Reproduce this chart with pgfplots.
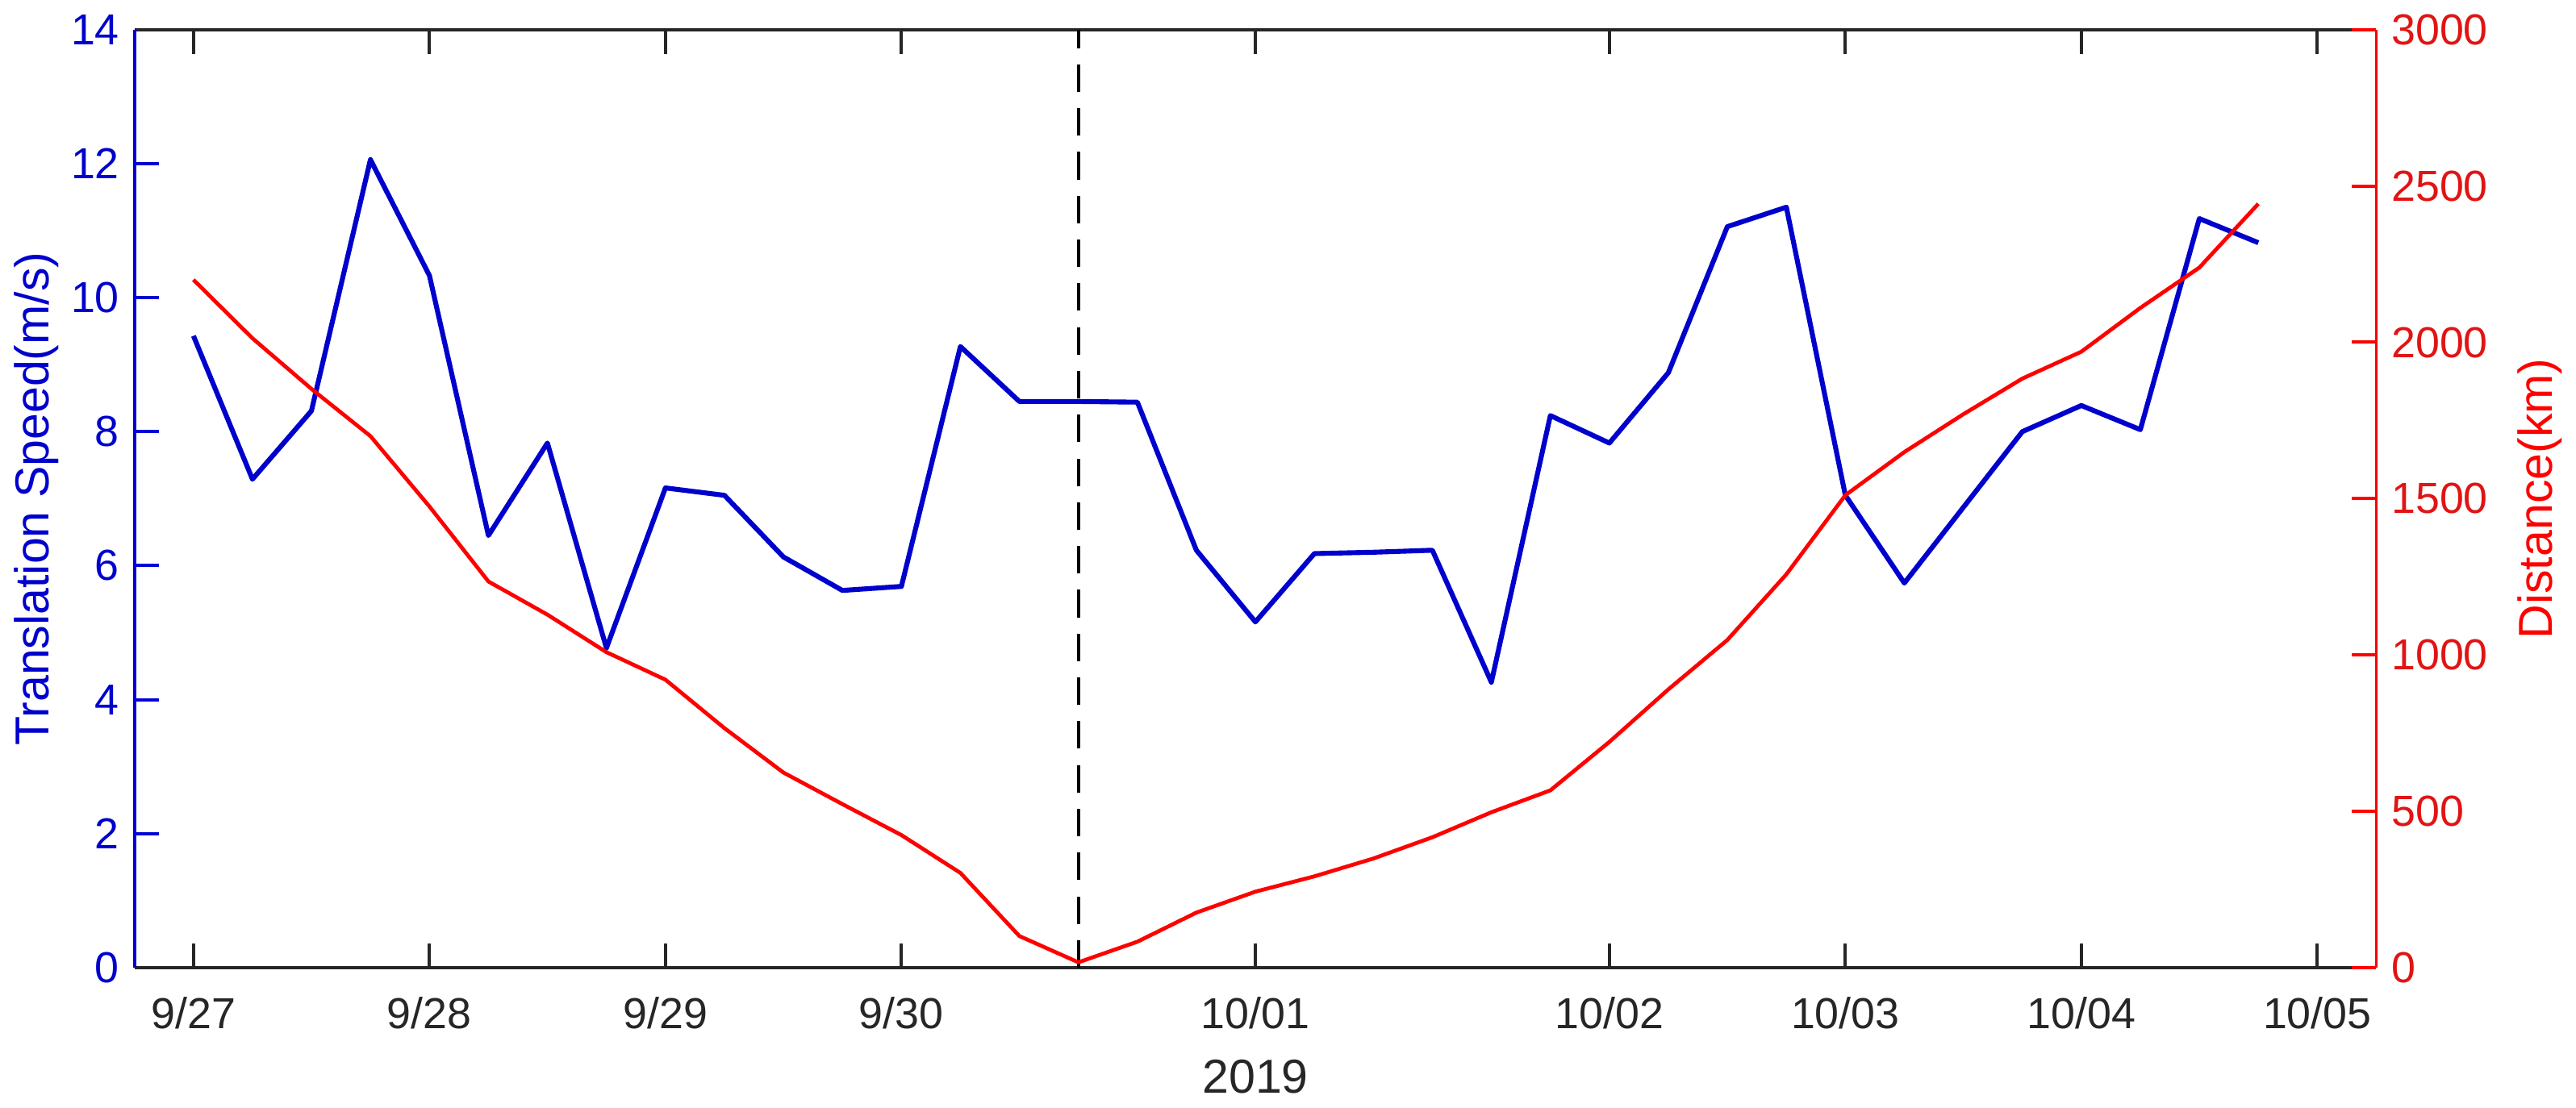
\documentclass[border=0pt]{standalone}
\usepackage{fontspec}
\setmainfont{Liberation Sans}
\usepackage{pgfplots}
\pgfplotsset{compat=1.18}

\definecolor{spdblue}{RGB}{0,0,205}
\definecolor{axblue}{RGB}{0,0,215}
\definecolor{distred}{RGB}{255,0,0}
\definecolor{lblred}{RGB}{225,20,20}

% speed (m/s) every 6 h, index 0 = 9/27 00:00
\pgfplotstableread{
i v
0 9.43
1 7.29
2 8.31
3 12.06
4 10.33
5 6.45
6 7.83
7 4.77
8 7.16
9 7.05
10 6.13
11 5.63
12 5.69
13 9.27
14 8.45
15 8.45
16 8.44
17 6.23
18 5.16
19 6.18
20 6.20
21 6.23
22 4.26
23 8.24
24 7.83
25 8.88
26 11.06
27 11.35
28 7.05
29 5.74
30 6.87
31 8.00
32 8.39
33 8.03
34 11.18
35 10.82
}\speed

% distance (km)
\pgfplotstableread{
i d
0 2200
1 2013
2 1851
3 1700
4 1475
5 1235
6 1129
7 1009
8 921
9 766
10 624
11 523
12 424
13 303
14 101
15 17
16 83
17 176
18 243
19 292
20 349
21 417
22 497
23 567
24 722
25 890
26 1048
27 1258
28 1511
29 1649
30 1770
31 1884
32 1970
33 2110
34 2239
35 2443
}\dist

\pgfplotsset{
  every axis/.append style={
    width=522pt, height=218.5pt, scale only axis,
    xmin=-1, xmax=37,
    font=\fontsize{10.1}{12}\selectfont,
    major tick length=5.7pt,
    /pgf/number format/assume math mode=true,
    /pgf/number format/1000 sep={},
    label style={font=\fontsize{11.1}{13}\selectfont},
  },
}

\begin{document}
\begin{tikzpicture}
\begin{axis}[
    axis y line*=left,
    tick align=inside,
    ymin=0, ymax=14,
    ytick={0,2,...,14},
    xtick={0,4,8,12,18,24,28,32,36},
    xticklabels={9/27,9/28,9/29,9/30,10/01,10/02,10/03,10/04,10/05},
    xtick pos=both,
    x axis line style={black!85, line width=0.75pt},
    y axis line style={axblue, line width=0.75pt},
    ytick style={axblue, line width=0.75pt},
    xtick style={black!85, line width=0.75pt},
    yticklabel style={spdblue},
    xticklabel style={black!85, yshift=-3.3pt},
    ylabel={Translation Speed(m/s)},
    ylabel style={spdblue, at={(axis description cs:0,0.5)}, anchor=center, yshift=22.8pt},
    xlabel={2019},
    xlabel style={black!85, at={(axis description cs:0.5,0)}, anchor=north, yshift=-17.9pt},
]
\addplot[spdblue, line width=1.15pt, line join=round] table[x=i, y=v] {\speed};
\addplot[black, line width=0.8pt, dash pattern=on 6.4pt off 3.8pt] coordinates {(15,0) (15,14)};
\end{axis}
\begin{axis}[
    axis y line*=right,
    axis x line=none,
    tick align=inside,
    ymin=0, ymax=3000,
    ytick={0,500,...,3000},
    y axis line style={distred, line width=0.75pt},
    ytick style={distred, line width=0.75pt},
    yticklabel style={lblred},
    ylabel={Distance(km)},
    ylabel style={distred, at={(axis description cs:1,0.5)}, anchor=center, yshift=-38pt},
]
\addplot[distred, line width=0.9pt, line join=round] table[x=i, y=d] {\dist};
\end{axis}
\end{tikzpicture}
\end{document}
